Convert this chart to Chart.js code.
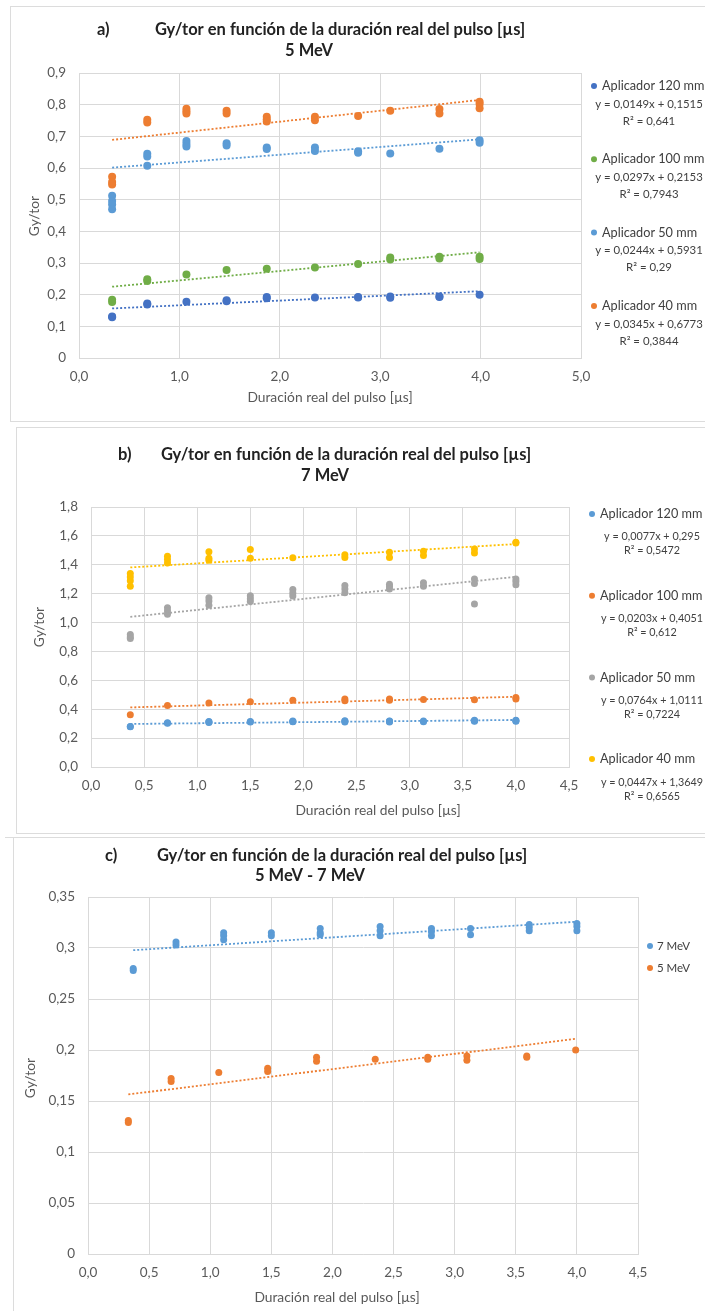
<!DOCTYPE html>
<html>
<head>
<meta charset="utf-8">
<title>Gy/tor en función de la duración real del pulso</title>
<script src="https://cdn.jsdelivr.net/npm/chart.js@4.4.1/dist/chart.umd.min.js"></script>
<style>
    body { margin: 0; background: #fff; }
    #page { position: relative; width: 705px; height: 1311px; overflow: hidden; }
    .frame { position: absolute; border: 1px solid #dcdcdc; }
    canvas { position: absolute; left: 0; }
</style>
</head>
<body>
<div id="page">
    <div class="frame" style="left:10px; top:6px; width:720px; height:414px"></div>
    <div class="frame" style="left:16px; top:427px; width:720px; height:405px"></div>
    <div class="frame" style="left:13px; top:837px; width:720px; height:500px; border-top:none"></div>
    <div class="frame" style="left:5px; top:837px; width:720px; height:0; border-width:1px 0 0 0"></div>
    <canvas id="chart-a" width="705" height="422" style="top:0"></canvas>
    <canvas id="chart-b" width="705" height="412" style="top:422px"></canvas>
    <canvas id="chart-c" width="705" height="477" style="top:834px"></canvas>
</div>
<script>
// pulse durations [µs] (x), one per group of repeated measurements
const pulse5 = [0.33, 0.68, 1.07, 1.47, 1.87, 2.35, 2.78, 3.10, 3.59, 3.99];
const pulse7 = [0.37, 0.72, 1.11, 1.50, 1.90, 2.39, 2.81, 3.13, 3.61, 4.00];

// 5 MeV, Gy/tor per applicator (each inner list = repeats at one duration)
const a120 = [[0.131, 0.129], [0.172, 0.169], [0.178], [0.182, 0.179], [0.193, 0.189], [0.191], [0.193, 0.191], [0.194, 0.190], [0.194, 0.193], [0.200]];
const a100 = [[0.184, 0.177], [0.249, 0.243], [0.264], [0.278], [0.282], [0.286], [0.297], [0.317, 0.311], [0.320, 0.314], [0.320, 0.313]];
const a50 = [[0.512, 0.496, 0.485, 0.470], [0.645, 0.636, 0.607], [0.685, 0.676, 0.668], [0.678, 0.671], [0.665, 0.660], [0.665, 0.654], [0.653, 0.648], [0.646], [0.661], [0.688, 0.680]];
const a40 = [[0.572, 0.556, 0.548], [0.752, 0.744], [0.787, 0.779, 0.772], [0.781, 0.772], [0.762, 0.754, 0.747], [0.762, 0.751], [0.764], [0.781], [0.786, 0.772], [0.809, 0.802, 0.789]];

// 7 MeV
const b120 = [[0.280, 0.278], [0.306, 0.303], [0.315, 0.312, 0.308], [0.315, 0.312], [0.319, 0.315, 0.313], [0.321, 0.317, 0.312], [0.319, 0.316, 0.312], [0.319, 0.313], [0.323, 0.320, 0.317], [0.324, 0.321, 0.317]];
const b100 = [[0.362], [0.425], [0.443], [0.452], [0.462], [0.471, 0.458], [0.471, 0.462], [0.467], [0.466], [0.481, 0.470]];
const b50 = [[0.918, 0.900, 0.890], [1.103, 1.080, 1.058], [1.172, 1.150, 1.120], [1.186, 1.164, 1.146], [1.228, 1.205, 1.184], [1.256, 1.232, 1.206], [1.265, 1.250, 1.232], [1.275, 1.252], [1.302, 1.270, 1.128], [1.302, 1.284, 1.262]];
const b40 = [[1.340, 1.315, 1.290, 1.252], [1.459, 1.436, 1.412], [1.491, 1.446, 1.432], [1.505, 1.446], [1.449], [1.469, 1.450], [1.486, 1.450], [1.493, 1.464], [1.509, 1.482], [1.556, 1.550]];

// trendlines as printed in the legends (order: 120, 100, 50, 40 mm)
const applicators = ['Aplicador 120 mm', 'Aplicador 100 mm', 'Aplicador 50 mm', 'Aplicador 40 mm'];
const slope5 = [0.0149, 0.0297, 0.0244, 0.0345];
const icept5 = [0.1515, 0.2153, 0.5931, 0.6773];
const rsq5 = [0.641, 0.7943, 0.29, 0.3844];
const slope7 = [0.0077, 0.0203, 0.0764, 0.0447];
const icept7 = [0.295, 0.4051, 1.0111, 1.3649];
const rsq7 = [0.5472, 0.612, 0.7224, 0.6565];
const energies = ['7 MeV', '5 MeV'];

const FONT = 'Lato, "Open Sans", sans-serif';
const GRID = '#d9d9d9';
const TICK = '#595959';
const blueDark = '#4472C4', blue = '#5B9BD5', orange = '#ED7D31', green = '#70AD47', gray = '#A5A5A5', yellow = '#FFC000';

const fmt = v => String(v).replace('.', ',');

function points(xs, groups) {
    const out = [];
    groups.forEach((g, i) => g.forEach(y => out.push({ x: xs[i], y: y })));
    return out;
}

function trend(xs, slope, icept) {
    const x0 = xs[0], x1 = xs[xs.length - 1];
    return [{ x: x0, y: slope * x0 + icept }, { x: x1, y: slope * x1 + icept }];
}

function series(label, color, xs, groups, slope, icept, radius) {
    return [{
        label: label, data: points(xs, groups),
        backgroundColor: color, borderColor: color, pointRadius: radius, pointBorderWidth: 0, order: 1
    }, {
        label: '', data: trend(xs, slope, icept), showLine: true,
        borderColor: color, borderWidth: 1.8, borderDash: [2, 2], pointRadius: 0, order: 0
    }];
}

// free text: titles and axis titles
const panelText = {
    id: 'panelText',
    afterDraw(chart, args, opts) {
        const ctx = chart.ctx;
        opts.items.forEach(t => {
            ctx.save();
            ctx.translate(t.x, t.y);
            if (t.rotate) ctx.rotate(t.rotate);
            ctx.font = t.font;
            ctx.fillStyle = t.color || TICK;
            ctx.textAlign = t.align || 'center';
            ctx.textBaseline = 'middle';
            ctx.fillText(t.text, 0, 0);
            ctx.restore();
        });
    }
};

// excel-like legend with trendline equations under each entry
const excelLegend = {
    id: 'excelLegend',
    afterDraw(chart, args, opts) {
        const ctx = chart.ctx;
        ctx.save();
        opts.items.forEach((it, i) => {
            const y = opts.top + i * opts.step;
            ctx.fillStyle = it.color;
            ctx.beginPath();
            ctx.arc(opts.dotX, y, 3, 0, Math.PI * 2);
            ctx.fill();
            ctx.fillStyle = '#404040';
            ctx.font = opts.nameFont;
            ctx.textAlign = 'left';
            ctx.textBaseline = 'middle';
            ctx.fillText(it.name, opts.textX, y);
            if (it.eq) {
                ctx.font = opts.eqFont;
                ctx.textAlign = 'center';
                ctx.fillText(it.eq, opts.eqX, y + opts.eqDy);
                ctx.fillText(it.r2, opts.eqX, y + opts.r2Dy);
            }
        });
        ctx.restore();
    }
};

function legendItems(names, colors, slopes, icepts, rsq) {
    return names.map((n, i) => ({
        name: n, color: colors[i],
        eq: slopes ? 'y = ' + fmt(slopes[i]) + 'x + ' + fmt(icepts[i]) : null,
        r2: rsq ? 'R² = ' + fmt(rsq[i]) : null
    }));
}

function makeOptions(area, h, xAxis, yAxis, yLabel, texts, legend) {
    const tickFont = { family: FONT, size: 13.5 };
    return {
        responsive: false,
        animation: false,
        layout: { padding: { left: 10, top: area.top, right: 705 - area.right, bottom: 10 } },
        scales: {
            x: {
                type: 'linear', min: xAxis[0], max: xAxis[1],
                grid: { color: GRID, drawTicks: false }, border: { color: GRID },
                ticks: { stepSize: xAxis[2], padding: 11, color: TICK, font: tickFont, autoSkip: false, maxRotation: 0,
                    callback: v => v.toFixed(1).replace('.', ',') },
                afterFit: s => { s.height = h - 10 - area.bottom; }
            },
            y: {
                min: yAxis[0], max: yAxis[1],
                grid: { color: GRID, drawTicks: false }, border: { color: GRID },
                ticks: { stepSize: yAxis[2], padding: 13, color: TICK, font: tickFont, autoSkip: false, callback: yLabel },
                afterFit: s => { s.width = area.left - 10; }
            }
        },
        plugins: {
            legend: { display: false },
            tooltip: { enabled: false },
            panelText: { items: texts },
            excelLegend: legend
        }
    };
}

const titleFont = 'bold 16.5px ' + FONT;
const axisFont = '13.8px ' + FONT;
const nameFont = '12.7px ' + FONT;
const xTitle = 'Duración real del pulso [µs]';
const mainTitle = 'Gy/tor en función de la duración real del pulso [µs]';

//////////////////////////////////////////////// Chart a) 5 MeV
new Chart(document.getElementById('chart-a'), {
    type: 'scatter',
    data: {
        datasets: [
            ...series(applicators[0], blueDark, pulse5, a120, slope5[0], icept5[0], 4),
            ...series(applicators[1], green, pulse5, a100, slope5[1], icept5[1], 4),
            ...series(applicators[2], blue, pulse5, a50, slope5[2], icept5[2], 4),
            ...series(applicators[3], orange, pulse5, a40, slope5[3], icept5[3], 4)
        ]
    },
    options: makeOptions({ left: 79, right: 581, top: 73, bottom: 358 }, 422,
        [0, 5, 1], [0, 0.9, 0.1], v => v === 0 ? '0' : v.toFixed(1).replace('.', ','),
        [
            { text: 'a)', x: 97, y: 30, font: titleFont, align: 'left', color: '#222' },
            { text: mainTitle, x: 340, y: 30, font: titleFont, color: '#222' },
            { text: '5 MeV', x: 309, y: 51, font: titleFont, color: '#222' },
            { text: 'Gy/tor', x: 35, y: 216, font: axisFont, rotate: -Math.PI / 2 },
            { text: xTitle, x: 330, y: 398, font: axisFont }
        ],
        { items: legendItems(applicators, [blueDark, green, blue, orange], slope5, icept5, rsq5),
          top: 86, step: 73.3, dotX: 594, textX: 602, eqX: 649, eqDy: 18, r2Dy: 35,
          nameFont: nameFont, eqFont: '11.4px ' + FONT }),
    plugins: [panelText, excelLegend]
});

//////////////////////////////////////////////// Chart b) 7 MeV
new Chart(document.getElementById('chart-b'), {
    type: 'scatter',
    data: {
        datasets: [
            ...series(applicators[0], blue, pulse7, b120, slope7[0], icept7[0], 3.5),
            ...series(applicators[1], orange, pulse7, b100, slope7[1], icept7[1], 3.5),
            ...series(applicators[2], gray, pulse7, b50, slope7[2], icept7[2], 3.5),
            ...series(applicators[3], yellow, pulse7, b40, slope7[3], icept7[3], 3.5)
        ]
    },
    options: makeOptions({ left: 91, right: 569, top: 85, bottom: 345 }, 412,
        [0, 4.5, 0.5], [0, 1.8, 0.2], v => v.toFixed(1).replace('.', ','),
        [
            { text: 'b)', x: 118, y: 33, font: titleFont, align: 'left', color: '#222' },
            { text: mainTitle, x: 346, y: 33, font: titleFont, color: '#222' },
            { text: '7 MeV', x: 325, y: 54, font: titleFont, color: '#222' },
            { text: 'Gy/tor', x: 40, y: 205, font: axisFont, rotate: -Math.PI / 2 },
            { text: xTitle, x: 378, y: 389, font: axisFont }
        ],
        { items: legendItems(applicators, [blue, orange, gray, yellow], slope7, icept7, rsq7),
          top: 92, step: 81.7, dotX: 592, textX: 600, eqX: 652, eqDy: 23, r2Dy: 37,
          nameFont: nameFont, eqFont: '10.8px ' + FONT }),
    plugins: [panelText, excelLegend]
});

//////////////////////////////////////////////// Chart c) 5 MeV - 7 MeV (applicator 120 mm)
new Chart(document.getElementById('chart-c'), {
    type: 'scatter',
    data: {
        datasets: [
            ...series(energies[0], blue, pulse7, b120, slope7[0], icept7[0], 3.5),
            ...series(energies[1], orange, pulse5, a120, slope5[0], icept5[0], 3.5)
        ]
    },
    options: makeOptions({ left: 88, right: 638, top: 63, bottom: 420 }, 477,
        [0, 4.5, 0.5], [0, 0.35, 0.05], v => String(+v.toFixed(2)).replace('.', ','),
        [
            { text: 'c)', x: 105, y: 22, font: titleFont, align: 'left', color: '#222' },
            { text: mainTitle, x: 342, y: 22, font: titleFont, color: '#222' },
            { text: '5 MeV - 7 MeV', x: 310, y: 42, font: titleFont, color: '#222' },
            { text: 'Gy/tor', x: 31, y: 244, font: axisFont, rotate: -Math.PI / 2 },
            { text: xTitle, x: 337, y: 464, font: axisFont }
        ],
        { items: legendItems(energies, [blue, orange]),
          top: 112, step: 22, dotX: 650, textX: 657, nameFont: '11.5px ' + FONT }),
    plugins: [panelText, excelLegend]
});
</script>
</body>
</html>
